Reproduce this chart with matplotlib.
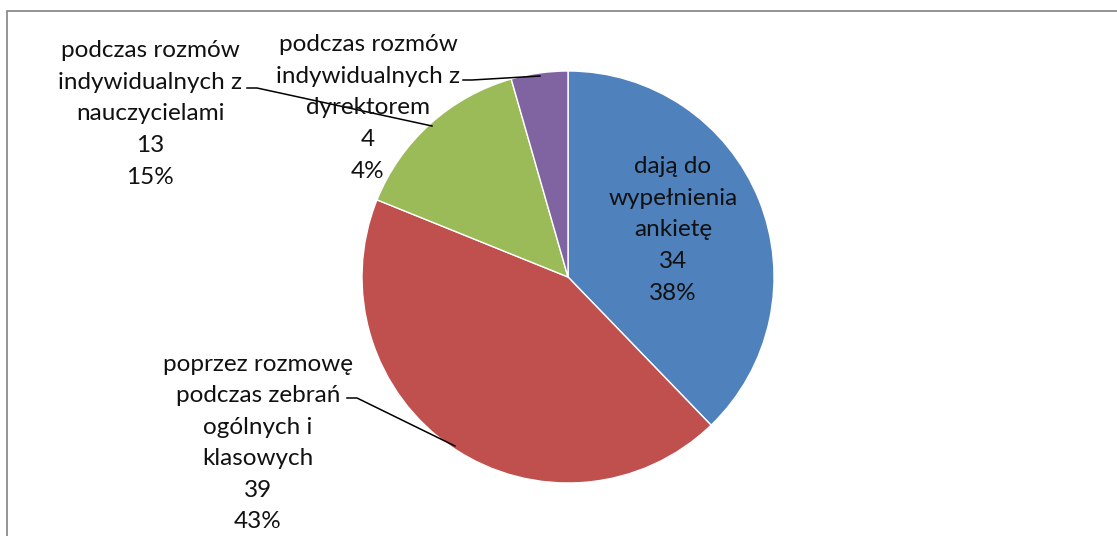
import matplotlib.pyplot as plt
from matplotlib.patches import Rectangle

labels = ["dają do\nwypełnienia\nankietę", "poprzez rozmowę\npodczas zebrań\nogólnych i\nklasowych",
          "podczas rozmów\nindywidualnych z\nnauczycielami", "podczas rozmów\nindywidualnych z\ndyrektorem"]
values = [34, 39, 13, 4]
percents = ["38%", "43%", "15%", "4%"]
colors = ["#4F81BD", "#C0504D", "#9BBB59", "#8064A2"]

W, H = 1117, 536
fig = plt.figure(figsize=(W / 100, H / 100), dpi=100)
ax = fig.add_axes([0, 0, 1, 1])
ax.set_xlim(0, W)
ax.set_ylim(0, H)
ax.set_aspect("equal")
ax.axis("off")

# outer chart frame (only left/top visible)
ax.add_patch(Rectangle((7, -50), W + 100, H - 11 + 50, fill=False, ec="#8c8c8c", lw=1.3))

cx, cy, r = 568, H - 277, 206
ax.pie(values, colors=colors, startangle=90, counterclock=False, center=(cx, cy), radius=r,
       explode=[0.035, 0, 0, 0], wedgeprops=dict(edgecolor="white", linewidth=1.0))
ax.set_xlim(0, W)
ax.set_ylim(0, H)

texts = [f"{l}\n{v}\n{p}" for l, v, p in zip(labels, values, percents)]
font = dict(family="Lato", fontsize=17.5, ha="center", va="center", linespacing=1.62, color="#111111")
pos = [(673, 230), (258, 443), (150, 114), (368, 108)]
for t, (x, y) in zip(texts, pos):
    ax.text(x, H - y, t, **font)

# leader lines
leaders = [
    [(247, 88), (257, 88), (432, 126)],
    [(463, 80), (472, 80), (540, 76)],
    [(347, 398), (357, 398), (455, 446)],
]
for pts in leaders:
    ax.plot([p[0] for p in pts], [H - p[1] for p in pts], color="black", lw=1.1)

fig.savefig("out.png", dpi=100)
